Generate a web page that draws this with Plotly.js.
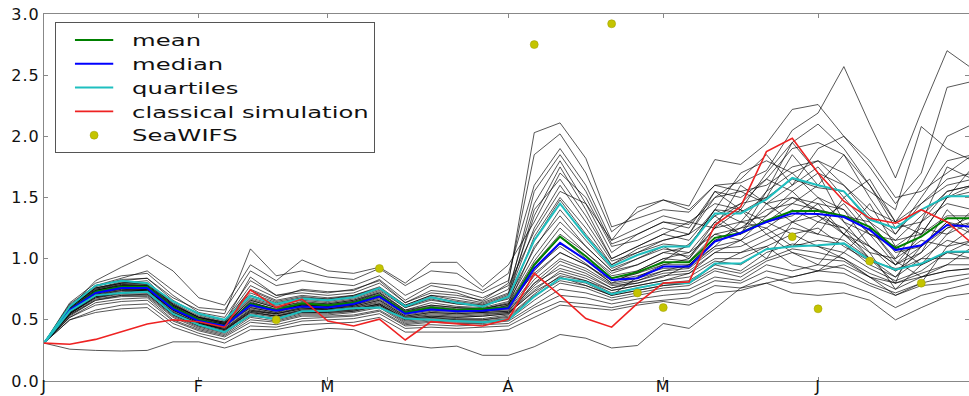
<!DOCTYPE html>
<html>
<head>
<meta charset="utf-8">
<script src="https://cdn.plot.ly/plotly-3.0.1.min.js"></script>
<style>
html,body{margin:0;padding:0;background:#fff;}
#chart{width:969px;height:396px;}
.legendtext{transform-box:fill-box;transform-origin:left center;transform:scaleX(1.52);}
.legendlines path{transform-box:fill-box;transform-origin:center center;transform:scaleX(0.58);}
.ytick text,.xtick text{letter-spacing:1px;}
</style>
</head>
<body>
<div id="chart"></div>
<script>
// time steps (index of output period)
const steps = [0,1,2,3,4,5,6,7,8,9,10,11,12,13,14,15,16,17,18,19,20,21,22,23,24,25,26,27,28,29,30,31,32,33,34,35,36];
const tickSteps = [0,6,11,18,24,30];
const tickLabels = ['J','F','M','A','M','J'];

// ensemble members
const m01=[0.31,0.64,0.80,0.86,0.88,0.70,0.56,0.52,0.82,0.70,0.74,0.72,0.75,0.82,0.64,0.72,0.70,0.66,0.80,2.03,2.11,1.82,1.26,1.33,1.40,1.38,1.60,1.62,1.72,2.05,2.19,2.57,2.10,1.66,2.20,2.70,2.55];
const m02=[0.31,0.62,0.78,0.84,0.90,0.74,0.60,0.58,0.90,0.78,0.82,0.80,0.78,0.86,0.70,0.80,0.78,0.72,0.82,1.85,2.02,1.70,1.22,1.38,1.48,1.43,1.81,1.77,1.94,2.22,2.26,2.00,1.75,1.45,1.70,2.40,2.45];
const m03=[0.31,0.60,0.82,0.93,1.03,0.90,0.68,0.62,0.95,0.82,0.99,0.90,0.88,0.93,0.80,0.97,0.97,0.77,0.95,1.30,1.70,1.50,1.10,1.15,1.25,1.20,1.50,1.55,1.60,1.75,1.80,1.70,1.55,1.40,2.08,1.90,1.80];
const m04=[0.31,0.63,0.78,0.82,0.84,0.68,0.58,0.55,1.08,0.86,0.90,0.85,0.83,0.92,0.78,0.90,0.88,0.74,0.88,1.60,1.90,1.60,1.15,1.25,1.35,1.30,1.45,1.40,1.70,1.95,2.10,1.90,1.60,1.30,1.60,2.00,2.10];
const m05=[0.31,0.60,0.76,0.80,0.82,0.62,0.52,0.48,0.85,0.70,0.72,0.70,0.72,0.80,0.64,0.74,0.72,0.65,0.75,1.45,1.80,1.45,1.05,1.20,1.30,1.25,1.55,1.50,1.65,1.90,1.95,1.85,1.50,1.20,1.50,1.80,1.85];
const m06=[0.31,0.59,0.75,0.80,0.80,0.64,0.53,0.48,0.75,0.66,0.70,0.68,0.70,0.76,0.62,0.70,0.68,0.64,0.72,1.35,1.75,1.40,1.00,1.10,1.20,1.15,1.40,1.30,1.55,1.70,1.80,1.60,1.40,1.30,1.45,1.65,1.70];
const m07=[0.31,0.58,0.74,0.79,0.79,0.63,0.52,0.47,0.72,0.64,0.68,0.67,0.69,0.76,0.60,0.68,0.65,0.62,0.70,1.25,1.60,1.30,0.98,1.05,1.15,1.20,1.35,1.45,1.50,1.85,1.60,1.55,1.30,1.15,1.35,1.55,1.60];
const m08=[0.31,0.61,0.78,0.82,0.80,0.65,0.55,0.50,0.70,0.63,0.68,0.66,0.69,0.76,0.61,0.69,0.64,0.61,0.69,1.15,1.48,1.20,0.95,1.05,1.12,1.10,1.40,1.38,1.50,1.65,1.58,1.55,1.32,1.25,1.40,1.50,1.55];
const m09=[0.31,0.60,0.76,0.81,0.79,0.62,0.51,0.47,0.68,0.62,0.66,0.64,0.67,0.74,0.60,0.66,0.63,0.62,0.67,1.08,1.40,1.15,0.92,1.00,1.08,1.05,1.30,1.20,1.45,1.60,1.75,1.50,1.25,1.00,1.30,1.45,1.40];
const m10=[0.31,0.59,0.74,0.78,0.78,0.61,0.50,0.46,0.66,0.60,0.65,0.63,0.66,0.72,0.58,0.64,0.61,0.60,0.65,1.02,1.30,1.10,0.90,0.95,1.05,1.02,1.25,1.30,1.35,1.50,1.45,1.40,1.20,1.15,1.20,1.35,1.35];
const m11=[0.31,0.58,0.73,0.77,0.77,0.60,0.50,0.46,0.64,0.59,0.63,0.62,0.64,0.70,0.57,0.61,0.59,0.59,0.63,0.98,1.25,1.05,0.86,0.90,1.00,0.98,1.20,1.25,1.40,1.45,1.40,1.35,1.30,1.05,1.10,1.30,1.25];
const m12=[0.31,0.58,0.72,0.76,0.76,0.59,0.49,0.45,0.63,0.58,0.62,0.61,0.63,0.69,0.56,0.59,0.58,0.58,0.61,0.94,1.18,1.00,0.84,0.88,0.95,0.95,1.15,1.20,1.30,1.35,1.50,1.30,1.20,1.10,1.25,1.20,1.30];
const m13=[0.31,0.57,0.71,0.75,0.75,0.58,0.49,0.45,0.61,0.57,0.61,0.60,0.62,0.68,0.55,0.58,0.57,0.57,0.59,0.90,1.12,0.99,0.82,0.86,0.92,0.93,1.10,1.15,1.25,1.40,1.30,1.25,1.10,0.95,1.05,1.40,1.20];
const m14=[0.31,0.57,0.71,0.74,0.74,0.58,0.48,0.44,0.60,0.56,0.60,0.59,0.62,0.67,0.54,0.57,0.56,0.57,0.58,0.86,1.05,0.95,0.80,0.84,0.90,0.92,1.08,1.10,1.20,1.30,1.35,1.20,1.05,1.00,1.15,1.10,1.15];
const m15=[0.31,0.56,0.70,0.73,0.74,0.57,0.47,0.43,0.59,0.55,0.59,0.59,0.61,0.66,0.53,0.56,0.55,0.56,0.57,0.83,1.00,0.92,0.79,0.82,0.88,0.90,1.05,1.05,1.15,1.25,1.20,1.15,1.00,0.90,1.00,1.15,1.10];
const m16=[0.31,0.56,0.70,0.72,0.73,0.56,0.47,0.42,0.58,0.54,0.58,0.58,0.60,0.65,0.52,0.55,0.54,0.55,0.56,0.78,0.95,0.88,0.76,0.80,0.86,0.88,1.00,1.00,1.10,1.20,1.25,1.10,0.98,0.92,0.95,1.05,1.05];
const m17=[0.31,0.55,0.69,0.72,0.72,0.55,0.46,0.41,0.56,0.53,0.57,0.57,0.59,0.63,0.51,0.53,0.52,0.53,0.55,0.74,0.90,0.84,0.74,0.78,0.82,0.85,0.98,0.95,1.08,1.10,1.15,1.12,0.95,0.85,1.00,1.00,1.00];
const m18=[0.31,0.55,0.68,0.71,0.71,0.54,0.45,0.40,0.55,0.52,0.56,0.56,0.58,0.62,0.50,0.52,0.50,0.50,0.53,0.71,0.86,0.82,0.72,0.76,0.80,0.82,0.95,0.90,1.05,1.12,1.10,1.05,0.92,0.82,0.90,1.05,1.00];
const m19=[0.31,0.54,0.67,0.70,0.70,0.53,0.44,0.39,0.54,0.50,0.55,0.55,0.57,0.61,0.48,0.50,0.49,0.49,0.51,0.69,0.84,0.80,0.70,0.74,0.78,0.80,0.92,0.88,1.00,1.08,1.05,1.00,0.88,0.80,0.88,0.95,0.95];
const m20=[0.31,0.53,0.66,0.69,0.69,0.52,0.43,0.38,0.52,0.49,0.54,0.54,0.56,0.60,0.47,0.49,0.48,0.48,0.50,0.66,0.80,0.76,0.68,0.72,0.76,0.78,0.90,0.85,0.98,1.05,1.00,0.98,0.85,0.75,0.85,0.90,0.92];
const m21=[0.31,0.52,0.64,0.67,0.68,0.50,0.42,0.37,0.50,0.48,0.53,0.53,0.54,0.58,0.46,0.48,0.47,0.47,0.49,0.62,0.75,0.72,0.66,0.70,0.74,0.75,0.85,0.82,0.95,0.90,0.95,0.92,0.80,0.72,0.80,0.85,0.88];
const m22=[0.31,0.52,0.62,0.65,0.66,0.49,0.41,0.36,0.48,0.46,0.51,0.52,0.53,0.57,0.45,0.46,0.45,0.46,0.47,0.60,0.70,0.68,0.63,0.67,0.70,0.72,0.82,0.80,0.90,0.85,0.90,0.88,0.78,0.70,0.78,0.80,0.85];
const m23=[0.31,0.50,0.58,0.62,0.63,0.47,0.39,0.34,0.45,0.44,0.49,0.50,0.51,0.55,0.43,0.44,0.43,0.44,0.45,0.56,0.65,0.63,0.60,0.64,0.66,0.68,0.78,0.76,0.85,0.80,0.82,0.80,0.72,0.60,0.70,0.75,0.80];
const m24=[0.31,0.50,0.56,0.59,0.60,0.44,0.37,0.31,0.42,0.42,0.46,0.47,0.48,0.52,0.40,0.40,0.40,0.40,0.42,0.52,0.62,0.60,0.58,0.62,0.65,0.62,0.72,0.74,0.80,0.72,0.70,0.72,0.66,0.50,0.60,0.69,0.72];
const m25=[0.31,0.26,0.25,0.245,0.25,0.32,0.32,0.27,0.33,0.37,0.40,0.43,0.42,0.335,0.30,0.27,0.285,0.21,0.21,0.28,0.38,0.35,0.27,0.29,0.47,0.43,0.59,0.76,0.80,0.85,0.90,0.95,0.85,0.80,0.85,0.90,0.92];
const m26=[0.31,0.60,0.77,0.83,0.84,0.66,0.54,0.49,0.78,0.68,0.75,0.73,0.74,0.83,0.66,0.78,0.74,0.68,0.78,1.22,1.55,1.45,1.15,1.42,1.48,1.40,1.60,1.55,1.45,1.50,1.40,1.20,1.10,0.95,1.10,1.25,1.30];
const m27=[0.31,0.56,0.69,0.72,0.75,0.60,0.48,0.42,0.57,0.55,0.60,0.58,0.60,0.64,0.52,0.54,0.53,0.54,0.56,0.73,0.85,0.78,0.70,0.85,0.95,1.00,1.30,1.45,1.65,1.55,1.35,1.25,1.00,0.80,1.30,1.75,1.65];
const m28=[0.31,0.59,0.72,0.75,0.74,0.58,0.48,0.44,0.65,0.58,0.62,0.62,0.65,0.71,0.56,0.60,0.58,0.56,0.62,0.96,1.20,1.05,0.88,0.95,1.05,1.10,1.40,1.70,1.80,1.70,1.50,1.40,1.10,0.90,1.05,1.25,1.35];
const m29=[0.31,0.58,0.74,0.78,0.77,0.61,0.50,0.46,0.60,0.56,0.63,0.61,0.62,0.70,0.55,0.60,0.58,0.58,0.60,0.92,1.10,0.96,0.80,0.90,1.00,1.05,1.20,1.15,1.35,1.55,1.70,1.60,1.35,1.20,1.45,1.60,1.65];
const m30=[0.31,0.55,0.68,0.72,0.73,0.56,0.46,0.41,0.57,0.53,0.57,0.57,0.58,0.63,0.50,0.52,0.51,0.51,0.54,0.80,0.98,0.90,0.78,0.80,0.85,0.95,1.15,1.25,1.30,1.20,1.10,1.00,0.85,0.70,0.80,1.10,1.25];
const m31=[0.31,0.60,0.75,0.79,0.78,0.62,0.52,0.47,0.70,0.63,0.67,0.65,0.68,0.75,0.61,0.67,0.63,0.61,0.68,1.40,1.65,1.35,1.00,1.10,1.20,1.30,1.25,1.60,1.45,1.30,1.20,1.50,1.65,1.30,1.20,1.50,1.75];
const m32=[0.31,0.57,0.72,0.76,0.77,0.60,0.49,0.45,0.64,0.58,0.62,0.61,0.64,0.70,0.56,0.60,0.58,0.58,0.62,1.10,1.35,1.10,0.90,1.00,1.10,1.00,1.25,1.40,1.20,1.05,0.95,1.20,1.45,1.10,0.95,1.20,1.40];
const m33=[0.31,0.58,0.73,0.77,0.76,0.60,0.50,0.46,0.66,0.60,0.63,0.62,0.65,0.72,0.57,0.62,0.60,0.59,0.63,0.88,1.05,0.95,0.82,0.88,0.98,1.12,1.35,1.20,1.55,1.95,1.70,1.30,1.05,0.75,0.95,1.05,1.15];
const m34=[0.31,0.56,0.70,0.74,0.75,0.58,0.48,0.43,0.58,0.55,0.59,0.59,0.61,0.66,0.53,0.56,0.55,0.56,0.57,0.80,0.92,0.86,0.76,0.82,0.90,0.95,1.10,1.30,1.25,1.10,1.30,1.45,1.20,0.95,1.20,1.50,1.60];
const m35=[0.31,0.59,0.74,0.78,0.78,0.61,0.51,0.46,0.67,0.61,0.64,0.63,0.66,0.73,0.58,0.62,0.60,0.59,0.64,1.18,1.50,1.25,0.95,1.08,1.15,1.20,1.55,1.40,1.30,1.45,1.60,1.85,1.60,1.25,1.30,1.55,1.60];
const m36=[0.31,0.55,0.69,0.72,0.73,0.56,0.47,0.42,0.56,0.53,0.58,0.58,0.59,0.63,0.51,0.53,0.52,0.53,0.55,0.76,0.88,0.82,0.74,0.78,0.82,0.88,1.05,1.15,1.00,1.30,1.45,1.20,1.00,0.85,1.10,1.30,1.20];
const m37=[0.31,0.60,0.76,0.80,0.80,0.63,0.52,0.48,0.74,0.65,0.69,0.67,0.70,0.77,0.62,0.70,0.66,0.63,0.71,1.55,1.85,1.55,1.12,1.20,1.30,1.28,1.50,1.65,1.85,1.60,1.90,2.00,1.80,1.50,1.55,1.70,1.85];
const m38=[0.31,0.54,0.66,0.70,0.71,0.54,0.45,0.40,0.53,0.51,0.56,0.56,0.57,0.62,0.49,0.51,0.50,0.50,0.52,0.70,0.82,0.78,0.70,0.74,0.78,0.80,0.95,1.05,1.10,0.95,0.90,1.05,1.25,0.98,0.85,0.95,1.10];

// statistics
const meanVals=[0.31,0.58,0.73,0.77,0.77,0.60,0.50,0.45,0.63,0.58,0.635,0.62,0.64,0.70,0.56,0.60,0.58,0.59,0.60,0.95,1.18,1.02,0.84,0.89,0.97,0.97,1.17,1.21,1.31,1.39,1.39,1.35,1.26,1.085,1.18,1.33,1.33];
const medianVals=[0.31,0.58,0.72,0.76,0.76,0.59,0.49,0.45,0.62,0.575,0.61,0.60,0.63,0.69,0.55,0.585,0.57,0.575,0.595,0.92,1.13,0.99,0.826,0.84,0.935,0.935,1.14,1.21,1.30,1.37,1.365,1.34,1.235,1.07,1.11,1.275,1.26];
const upperQuartile=[0.31,0.61,0.78,0.82,0.80,0.65,0.55,0.50,0.695,0.63,0.675,0.66,0.685,0.76,0.61,0.685,0.64,0.61,0.69,1.15,1.45,1.18,0.935,1.03,1.10,1.10,1.37,1.37,1.485,1.66,1.60,1.55,1.32,1.25,1.40,1.51,1.51];
const lowerQuartile=[0.31,0.57,0.70,0.72,0.73,0.55,0.46,0.40,0.54,0.505,0.57,0.575,0.595,0.60,0.51,0.50,0.485,0.48,0.50,0.69,0.84,0.81,0.71,0.76,0.80,0.80,0.96,0.96,1.077,1.10,1.11,1.125,0.99,0.91,0.96,1.057,1.06];
const classicalSim=[0.31,0.30,0.34,0.40,0.466,0.50,0.485,0.44,0.745,0.60,0.67,0.49,0.45,0.505,0.335,0.485,0.47,0.45,0.505,0.88,0.70,0.51,0.44,0.635,0.80,0.81,1.275,1.425,1.875,1.985,1.70,1.47,1.33,1.29,1.40,1.30,1.12];

// SeaWIFS observations
const seaSteps=[9,13,19,22,23,24,29,30,32,34];
const seaVals=[0.50,0.92,2.75,2.92,0.72,0.60,1.18,0.59,0.98,0.80];

const members=[m01,m02,m03,m04,m05,m06,m07,m08,m09,m10,m11,m12,m13,m14,m15,m16,m17,m18,m19,m20,
  m21,m22,m23,m24,m25,m26,m27,m28,m29,m30,m31,m32,m33,m34,m35,m36,m37,m38];

const traces=[];
members.forEach(function(m){
  traces.push({x:steps,y:m,type:'scatter',mode:'lines',showlegend:false,hoverinfo:'skip',
    line:{color:'rgba(0,0,0,0.66)',width:1}});
});
traces.push({x:steps,y:meanVals,type:'scatter',mode:'lines',name:'mean',line:{color:'#008000',width:2}});
traces.push({x:steps,y:medianVals,type:'scatter',mode:'lines',name:'median',line:{color:'#0000ff',width:2}});
traces.push({x:steps,y:upperQuartile,type:'scatter',mode:'lines',name:'quartiles',legendgroup:'q',line:{color:'#1fbfbf',width:2}});
traces.push({x:steps,y:lowerQuartile,type:'scatter',mode:'lines',name:'quartiles',legendgroup:'q',showlegend:false,line:{color:'#1fbfbf',width:2}});
traces.push({x:steps,y:classicalSim,type:'scatter',mode:'lines',name:'classical simulation',line:{color:'#ee2222',width:1.6}});
traces.push({x:seaSteps,y:seaVals,type:'scatter',mode:'markers',name:'SeaWIFS',
  marker:{color:'#c4c400',size:8,line:{color:'#9a9a00',width:0.5}}});

const layout={
  width:969,height:396,
  margin:{l:44,r:0,t:14,b:15,pad:0},
  paper_bgcolor:'#ffffff',plot_bgcolor:'#ffffff',
  font:{family:'DejaVu Sans',size:16,color:'#111'},
  xaxis:{range:[0,35.85],tickvals:tickSteps,ticktext:tickLabels,showgrid:false,zeroline:false,
    showline:true,linecolor:'#888',linewidth:1,mirror:'ticks',ticks:'inside',ticklen:4,tickcolor:'#888',
    ticklabelstandoff:-9,
    tickfont:{family:'DejaVu Sans',size:16,color:'#111'}},
  yaxis:{range:[0,3],tickvals:[0,0.5,1,1.5,2,2.5,3],tickformat:'.1f',showgrid:false,zeroline:false,
    showline:true,linecolor:'#888',linewidth:1,mirror:'ticks',ticks:'inside',ticklen:4,tickcolor:'#888',
    tickfont:{family:'DejaVu Sans',size:16,color:'#111'}},
  showlegend:true,
  legend:{x:0.012,y:0.978,xanchor:'left',yanchor:'top',bgcolor:'#ffffff',bordercolor:'#555',borderwidth:1,
    font:{family:'DejaVu Sans',size:16,color:'#111'},itemwidth:66,tracegroupgap:0}
};
Plotly.newPlot('chart',traces,layout,{displayModeBar:false,staticPlot:true});
</script>
</body>
</html>
